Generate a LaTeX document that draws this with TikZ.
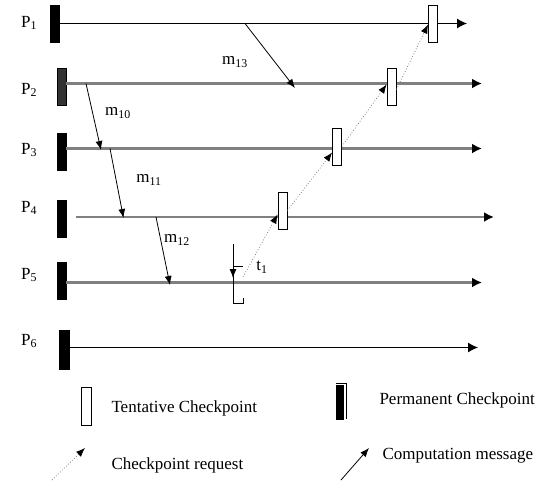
\documentclass[tikz,border=0pt]{standalone}
\usepackage{fontspec}
\setmainfont{Liberation Serif}
\usetikzlibrary{arrows.meta}

\begin{document}
\begin{tikzpicture}[x=1pt,y=-1pt,
		every node/.style={font=\fontsize{17}{20}\selectfont},
		perm/.style={draw,fill=black,minimum width=9pt,minimum height=37pt,inner sep=0pt},
		tent/.style={draw,fill=white,minimum width=9pt,minimum height=37pt,inner sep=0pt,line width=0.8pt},
		proc/.style={draw=black!50,line width=2.2pt,-{Latex[length=10pt,width=10pt,color=black]}},
		thinproc/.style={line width=1pt,-{Latex[length=10pt,width=10pt]}},
		msg/.style={line width=0.8pt,-{Latex[length=9pt,width=7pt]}},
		req/.style={draw=black!50,dotted,line width=0.8pt,-{Latex[length=9pt,width=7pt,color=black]}}]
		\useasboundingbox (0,0) rectangle (545,482);
		% processes
		\node (p1) at (29,23) {P\textsubscript{1}};
		\node (p2) at (29,90) {P\textsubscript{2}};
		\node (p3) at (29,150) {P\textsubscript{3}};
		\node (p4) at (29,208) {P\textsubscript{4}};
		\node (p5) at (29,275) {P\textsubscript{5}};
		\node (p6) at (29,341) {P\textsubscript{6}};
		\node[perm] (k1) at (55,23.5) {};
		\node[perm,fill=black!80] (k2) at (61.5,86.5) {};
		\node[perm] (k3) at (61.5,151.5) {};
		\node[perm] (k4) at (61.5,219) {};
		\node[perm] (k5) at (61.5,280.5) {};
		\node[perm,minimum width=10pt,minimum height=39pt] (k6) at (64.5,349.5) {};
		\coordinate (e1) at (467,23.5);
		\coordinate (e2) at (482,83.5);
		\coordinate (e3) at (482,148.5);
		\coordinate (e4) at (494,217);
		\coordinate (e5) at (482,282.5);
		\coordinate (e6) at (478,347.5);
		\draw[thinproc] (k1.east |- e1) -- (e1);
		\draw[proc] (k2.east |- e2) -- (e2);
		\draw[proc] (k3.east |- e3) -- (e3);
		\draw[proc] ([xshift=10pt]k4.east |- e4) -- (e4);
		\draw[proc] (k5.east |- e5) -- (e5);
		\draw[thinproc] (k6.east |- e6) -- (e6);
		\node[tent] (t1) at (433,23.5) {};
		\node[tent] (t2) at (391.5,86.5) {};
		\node[tent] (t3) at (337,146.5) {};
		\node[tent] (t4) at (282.5,210.5) {};
		% computation messages
		\coordinate (s13) at (245,23.5);
		\coordinate (r13) at (295,88);
		\coordinate (s10) at (86,83.5);
		\coordinate (r10) at (101,150);
		\coordinate (s11) at (110,148.5);
		\coordinate (r11) at (123.5,218);
		\coordinate (s12) at (156,217);
		\coordinate (r12) at (170,285);
		\draw[msg] (s13) -- (r13);
		\draw[msg] (s10) -- (r10);
		\draw[msg] (s11) -- (r11);
		\draw[msg] (s12) -- (r12);
		\node (m13) at (235,62) {m\textsubscript{13}};
		\node (m10) at (118,113) {m\textsubscript{10}};
		\node (m11) at (149,180) {m\textsubscript{11}};
		\node (m12) at (177,240) {m\textsubscript{12}};
		% checkpoint requests
		\coordinate (q0) at (243,277);
		\draw[req] (q0) -- ([yshift=-4pt]t4.west);
		\draw[req] (t4.east) -- ([yshift=-6pt]t3.west);
		\draw[req] (t3.east) -- ([yshift=2pt]t2.west);
		\draw[req] ([yshift=-3pt]t2.east) -- ([yshift=-1pt]t1.west);
		\draw (233,244) |- (243,303) -- (243,298);
		\draw[msg] (233,244) -- (233,278);
		\draw (233,266) -- (243,266);
		\node (tl) at (262,267) {t\textsubscript{1}};
		% legend
		\node[tent,minimum width=10pt,minimum height=38pt] (lt) at (86,406) {};
		\node[anchor=west] (ltx) at (108,408) {Tentative Checkpoint};
		\node[perm,minimum width=7pt,minimum height=34pt] (lp) at (340,402) {};
		\draw[line width=0.6pt] ([yshift=1.5pt]lp.north west) -| ([xshift=2.5pt]lp.south east);
		\node[anchor=west] (lpx) at (376,400) {Permanent Checkpoint};
		\coordinate (la) at (52,480);
		\coordinate (lb) at (85,448);
		\draw[req] (la) -- (lb);
		\node[anchor=west] (lqx) at (108,465) {Checkpoint request};
		\coordinate (lc) at (341,480);
		\coordinate (ld) at (369,448);
		\draw[msg] (lc) -- (ld);
		\node[anchor=west] (lmx) at (379,456) {Computation message};
	\end{tikzpicture}
\end{document}
